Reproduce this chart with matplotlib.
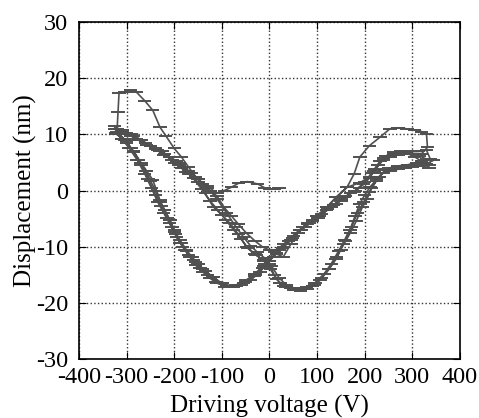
import numpy as np
import matplotlib
matplotlib.use("Agg")
import matplotlib.pyplot as plt

plt.rcParams['font.family'] = ['Liberation Serif', 'DejaVu Serif']
plt.rcParams['axes.unicode_minus'] = False

# initial sweep 0 -> -320 V
v_init = [20, 10, 0, -10, -25, -47, -65, -80, -95, -110, -130, -150, -170, -190, -210, -230, -250, -270, -290, -310, -320]
d_init = [0.4, 0.3, 0.3, 0.5, 1.2, 1.6, 1.3, 0.6, 0.0, -0.5, 0.8, 2.0, 3.5, 5.0, 6.0, 7.0, 8.0, 9.0, 10.0, 10.5, 11.0]

# creep at negative extreme, then first forward sweep
v_fwd1 = [-318, -316, -305, -292, -279, -262, -245, -230, -218, -200, -185, -170, -155, -140, -125, -110,
          -95, -80, -65, -48, -30, -15, 0, 15, 29, 45, 64, 80, 100, 120, 140, 163, 178, 190, 210, 232,
          253, 270, 289, 305, 320, 330, 332]
d_fwd1 = [14.0, 17.3, 17.6, 17.9, 17.5, 16.0, 14.3, 11.3, 9.8, 7.5, 6.0, 4.2, 2.5, 1.2, 0.0, -1.0,
          -3.0, -4.5, -6.0, -7.6, -9.0, -10.0, -10.6, -11.3, -11.8, -9.5, -7.0, -5.8, -4.5, -3.0, -1.2, 0.6, 3.0, 6.0, 8.0, 9.5,
          11.0, 11.2, 11.0, 10.8, 10.5, 10.0, 7.7]

# first backward sweep +330 -> -320 V
v_bwd1 = [320, 300, 270, 239, 222, 211, 190, 163, 140, 120, 100, 80, 64, 40, 20, 0, -15, -30, -50, -69,
          -85, -104, -120, -140, -155, -167, -178, -188, -199, -209, -220, -230, -245, -258, -270, -285, -300, -320]
d_bwd1 = [6.6, 6.6, 6.4, 5.8, 3.8, 2.5, 1.4, 0.6, -1.2, -3.0, -4.5, -6.0, -7.0, -9.0, -10.5, -12.5, -13.8, -15.0, -16.3, -17.0,
          -17.2, -16.4, -15.4, -14.0, -12.8, -11.8, -10.5, -9.3, -7.3, -5.2, -3.5, -1.7, 1.9, 3.5, 5.0, 7.0, 8.5, 10.5]

# second forward sweep
v_fwd2 = [-300, -285, -270, -250, -235, -220, -200, -185, -170, -150, -135, -118, -100, -83, -65, -48, -30, -13,
          0, 10, 22, 35, 50, 65, 80, 95, 106, 125, 141, 155, 169, 180, 190, 200, 211, 225, 240, 255, 270, 285,
          300, 315, 330, 345]
d_fwd2 = [10.2, 9.8, 9.0, 8.0, 7.2, 6.5, 5.0, 4.0, 3.0, 1.5, -0.5, -2.9, -4.3, -5.8, -7.8, -10.0, -11.3, -12.4,
          -13.0, -15.0, -16.5, -17.2, -17.7, -17.8, -17.5, -16.8, -16.0, -14.0, -11.8, -9.5, -7.0, -4.5, -2.3, -0.8, 0.6, 2.0, 3.2, 3.5, 3.8, 4.0,
          4.2, 4.4, 4.8, 5.4]

# second backward sweep
v_bwd2 = [330, 315, 300, 285, 270, 255, 239, 220, 200, 180, 160, 150, 135, 120, 105, 90, 75, 60, 45, 30, 15, 0,
          -20, -40, -60, -80, -100, -118, -135, -150, -163, -175, -188, -200, -210, -220, -230, -240, -250, -260,
          -275, -290, -305, -320]
d_bwd2 = [5.6, 6.2, 6.6, 6.8, 6.5, 6.0, 5.5, 3.5, 1.5, 0.0, -1.0, -1.5, -2.5, -3.5, -4.5, -5.5, -6.5, -7.5, -8.8, -10.0, -11.2, -12.5,
          -14.5, -16.0, -16.8, -17.0, -16.5, -15.4, -14.3, -13.0, -11.8, -10.5, -8.8, -7.0, -5.2, -3.5, -2.0, 0.0, 1.8, 3.5,
          5.5, 7.5, 9.0, 10.0]

# third forward sweep
v_fwd3 = [-310, -295, -280, -260, -240, -225, -210, -195, -180, -165, -150, -130, -110, -90, -70, -55, -40, -25, -10,
          5, 20, 35, 50, 70, 90, 110, 125, 140, 150, 160, 170, 182, 195, 205, 215, 230, 250, 270, 290, 310, 325, 335]
d_fwd3 = [10.8, 10.0, 9.2, 8.4, 7.6, 7.0, 6.0, 5.2, 4.2, 3.2, 2.0, 0.5, -1.5, -4.0, -6.5, -8.2, -9.8, -11.0, -12.0,
          -13.5, -15.5, -16.8, -17.3, -17.5, -17.0, -15.5, -14.0, -12.2, -10.5, -9.0, -7.5, -5.5, -3.0, -1.5, 0.5, 2.5, 4.0, 4.4, 4.6, 5.0, 5.0, 4.6]

# third backward sweep
v_bwd3 = [335, 320, 305, 290, 275, 260, 245, 228, 210, 190, 170, 150, 130, 110, 90, 70, 50, 30, 10,
          -10, -30, -50, -70, -90, -110, -125, -140, -155, -170, -182, -195, -205, -215, -228, -240, -255,
          -270, -285, -300, -315, -325]
d_bwd3 = [4.0, 5.2, 6.0, 6.6, 7.0, 6.8, 6.2, 4.5, 2.2, 0.5, -0.5, -1.8, -3.0, -4.2, -5.2, -6.5, -8.0, -9.5, -11.0,
          -13.0, -14.8, -16.0, -16.8, -17.0, -16.5, -15.6, -14.5, -13.3, -11.5, -10.0, -8.3, -6.5, -4.8, -2.8, -0.8, 2.0,
          4.5, 6.8, 8.8, 10.0, 11.0]

# fourth forward sweep
v_fwd4 = [-325, -310, -292, -275, -258, -240, -222, -205, -190, -175, -160, -142, -125, -108, -92, -75, -60, -45, -28, -12,
          2, 15, 30, 45, 60, 78, 96, 115, 130, 145, 158, 172, 185, 198, 210, 225, 242, 262, 282, 302, 320, 338]
d_fwd4 = [11.5, 10.6, 9.8, 9.0, 8.2, 7.4, 6.4, 5.5, 4.6, 3.4, 2.2, 0.2, -1.8, -3.5, -5.2, -7.0, -8.6, -10.3, -11.5, -12.5,
          -14.0, -15.8, -16.9, -17.4, -17.6, -17.2, -16.4, -14.8, -13.0, -10.8, -8.8, -6.5, -4.0, -2.0, -0.2, 1.8, 3.6, 4.0, 4.3, 4.6, 5.2, 5.6]

# fourth backward sweep
v_bwd4 = [330, 312, 295, 278, 262, 248, 232, 215, 198, 178, 158, 140, 122, 102, 84, 66, 48, 28, 8,
          -12, -32, -55, -75, -95, -112, -130, -146, -160, -174, -186, -198, -210, -222, -235, -248, -262,
          -278, -295, -310, -322]
d_bwd4 = [7.2, 7.0, 7.0, 6.9, 6.6, 6.2, 5.2, 3.2, 1.2, -0.2, -1.2, -2.3, -3.3, -4.8, -5.8, -7.0, -8.5, -10.2, -11.8,
          -13.5, -15.2, -16.4, -17.2, -17.1, -16.2, -15.0, -13.8, -12.4, -10.8, -9.4, -7.8, -5.8, -4.0, -2.0, 0.5, 3.0,
          5.5, 7.6, 9.2, 10.2]

v_all = np.concatenate([v_init, v_fwd1, v_bwd1, v_fwd2, v_bwd2, v_fwd3, v_bwd3, v_fwd4, v_bwd4])
d_all = np.concatenate([d_init, d_fwd1, d_bwd1, d_fwd2, d_bwd2, d_fwd3, d_bwd3, d_fwd4, d_bwd4])

fig = plt.figure(figsize=(4.79, 4.18), dpi=100)
ax = fig.add_axes([0.165, 0.141, 0.795, 0.806])

ax.errorbar(v_all, d_all, xerr=14, color='#505050', lw=1.2, elinewidth=1.4, capsize=0)

ax.set_xlim(-400, 400)
ax.set_ylim(-30, 30)
ax.set_xticks(np.arange(-400, 401, 100))
ax.set_yticks(np.arange(-30, 31, 10))
ax.grid(True, linestyle=':', color='#333333', linewidth=1)
ax.tick_params(direction='in', top=True, right=True, length=5, labelsize=17.5)
ax.tick_params(axis='x', pad=6)
ax.tick_params(axis='y', pad=8)
for s in ax.spines.values():
    s.set_linewidth(1.2)
ax.set_xlabel('Driving voltage (V)', fontsize=18, labelpad=5)
ax.set_ylabel('Displacement (nm)', fontsize=18, labelpad=-1)

fig.savefig('out.png', dpi=100)
